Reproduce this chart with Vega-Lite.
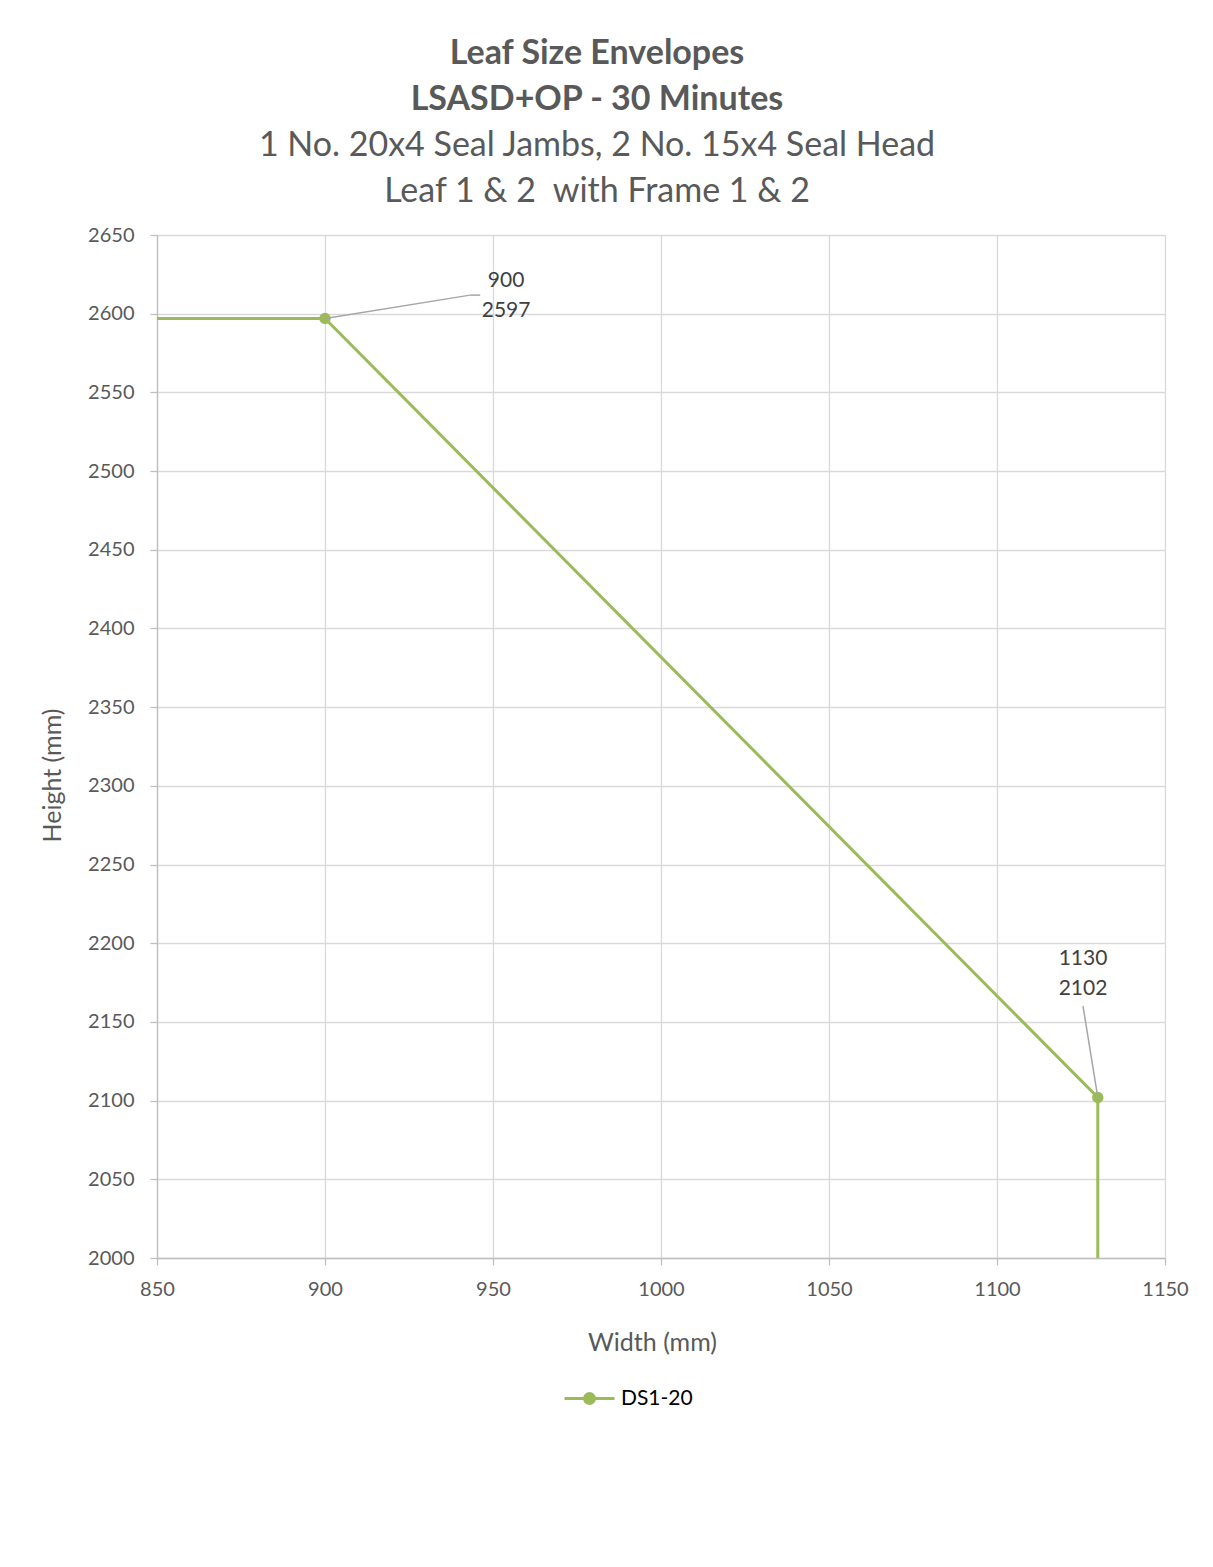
{
  "$schema": "https://vega.github.io/schema/vega-lite/v6.json",
  "autosize": "none",
  "width": 1008,
  "height": 1023,
  "padding": {"left": 157, "top": 235, "right": 48, "bottom": 309},
  "background": "white",
  "config": {
    "font": "Lato",
    "view": {"stroke": null},
    "axis": {
      "labelFont": "Lato", "labelFontSize": 20, "labelColor": "#595959", "format": "d", "labelFlush": false,
      "titleFont": "Lato", "titleFontSize": 25, "titleColor": "#595959", "titleFontWeight": "normal",
      "gridColor": "#d9d9d9", "gridWidth": 1.3,
      "domainColor": "#bfbfbf", "domainWidth": 1.3,
      "tickColor": "#bfbfbf", "tickSize": 7, "tickWidth": 1.3
    }
  },
  "title": {
    "text": ["Leaf Size Envelopes", "LSASD+OP - 30 Minutes"],
    "subtitle": ["1 No. 20x4 Seal Jambs, 2 No. 15x4 Seal Head", "Leaf 1 & 2 \u00a0with Frame 1 & 2"],
    "anchor": "middle", "frame": "group", "dx": -64, "offset": 16,
    "font": "Lato", "fontSize": 34, "fontWeight": "bold", "color": "#595959", "lineHeight": 46,
    "subtitleFont": "Lato", "subtitleFontSize": 34, "subtitleFontWeight": "normal", "subtitleColor": "#595959",
    "subtitleLineHeight": 46, "subtitlePadding": 12
  },
  "datasets": {
    "series": [
      {"w": 850, "h": 2597, "series": "DS1-20", "marker": false},
      {"w": 900, "h": 2597, "series": "DS1-20", "marker": true},
      {"w": 1130, "h": 2102, "series": "DS1-20", "marker": true},
      {"w": 1130, "h": 2000, "series": "DS1-20", "marker": false}
    ],
    "leaders": [
      {"x": 900, "y": 2597, "x2": 943.2, "y2": 2611.8},
      {"x": 943.2, "y": 2611.8, "x2": 946.2, "y2": 2611.8},
      {"x": 1130, "y": 2102, "x2": 1125.6, "y2": 2160}
    ],
    "labels": [
      {"x": 953.9, "y": 2620.8, "t": "900"},
      {"x": 953.9, "y": 2601.7, "t": "2597"},
      {"x": 1125.6, "y": 2190, "t": "1130"},
      {"x": 1125.6, "y": 2170.9, "t": "2102"}
    ]
  },
  "layer": [
    {
      "data": {"name": "series"},
      "mark": {"type": "line", "strokeWidth": 3, "clip": true},
      "encoding": {
        "x": {"field": "w", "type": "quantitative", "scale": {"domain": [850, 1150], "nice": false, "zero": false},
              "axis": {"title": "Width (mm)", "values": [850, 900, 950, 1000, 1050, 1100, 1150], "labelPadding": 14, "titlePadding": 31, "titleX": 495, "grid": true}},
        "y": {"field": "h", "type": "quantitative", "scale": {"domain": [2000, 2650], "nice": false, "zero": false},
              "axis": {"title": "Height (mm)", "values": [2000, 2050, 2100, 2150, 2200, 2250, 2300, 2350, 2400, 2450, 2500, 2550, 2600, 2650], "labelPadding": 16, "titlePadding": 22, "titleY": 540, "grid": true}},
        "color": {"field": "series", "type": "nominal", "scale": {"range": ["#9BBB59"]},
                  "legend": {"title": null, "orient": "none", "legendX": 406, "legendY": 1137,
                             "symbolType": "M-1,0H1M-0.2,0A0.2,0.2,0,1,1,0.2,0A0.2,0.2,0,1,1,-0.2,0Z",
                             "symbolSize": 2500, "symbolStrokeWidth": 3, "symbolFillColor": "#9BBB59", "symbolStrokeColor": "#9BBB59",
                             "labelFont": "Lato", "labelFontSize": 21, "labelColor": "#000000", "labelOffset": 5}}
      }
    },
    {
      "data": {"name": "series"},
      "transform": [{"filter": "datum.marker"}],
      "mark": {"type": "circle", "size": 130, "opacity": 1},
      "encoding": {
        "x": {"field": "w", "type": "quantitative"},
        "y": {"field": "h", "type": "quantitative"},
        "color": {"field": "series", "type": "nominal"}
      }
    },
    {
      "data": {"name": "leaders"},
      "mark": {"type": "rule", "color": "#a6a6a6", "strokeWidth": 1.5},
      "encoding": {
        "x": {"field": "x", "type": "quantitative"},
        "y": {"field": "y", "type": "quantitative"},
        "x2": {"field": "x2"},
        "y2": {"field": "y2"}
      }
    },
    {
      "data": {"name": "labels"},
      "mark": {"type": "text", "fontSize": 21, "color": "#404040", "align": "center", "baseline": "middle", "font": "Lato"},
      "encoding": {
        "x": {"field": "x", "type": "quantitative"},
        "y": {"field": "y", "type": "quantitative"},
        "text": {"field": "t"}
      }
    }
  ]
}
